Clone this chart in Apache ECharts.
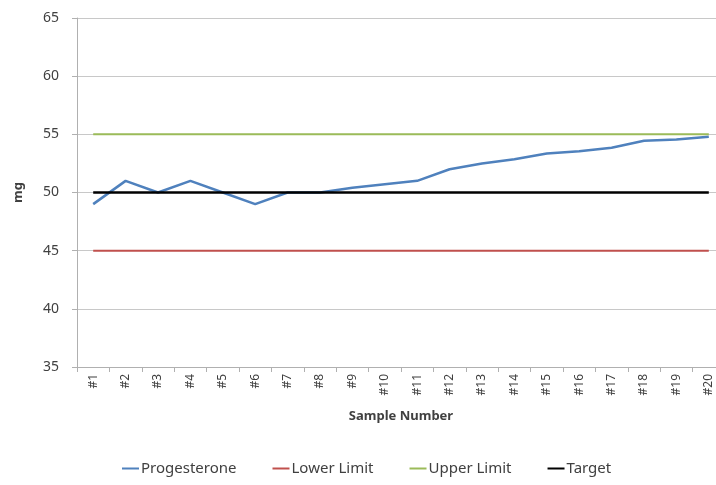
<!DOCTYPE html>
<html>
<head>
<meta charset="utf-8">
<script src="https://cdn.jsdelivr.net/npm/echarts@6/dist/echarts.min.js"></script>
<style>
  html, body { margin: 0; padding: 0; background: #fff; overflow: hidden; width: 716px; height: 485px; }
  /* the plot area runs a little past the right edge of the page */
  #chart { width: 740px; height: 485px; }
</style>
</head>
<body>
<div id="chart"></div>
<script>
// Sample labels along the x axis
const samples = ['#1','#2','#3','#4','#5','#6','#7','#8','#9','#10',
                 '#11','#12','#13','#14','#15','#16','#17','#18','#19','#20'];
// Measured progesterone per sample (mg)
const progesterone = [49, 51, 50, 51, 50, 49, 50, 50, 50.4, 50.7,
                      51, 52, 52.5, 52.85, 53.35, 53.55, 53.85, 54.45, 54.55, 54.8];
// Control limits (mg)
const lowerLimit = 45;
const upperLimit = 55;
const target = 50;
// Y axis range
const yMin = 35, yMax = 65, yStep = 5;

const flat = v => samples.map(() => v);
const font = 'Noto Sans';

const chart = echarts.init(document.getElementById('chart'));
chart.setOption({
  animation: false,
  textStyle: { fontFamily: font },
  grid: { left: 77, top: 18, width: 648, height: 349 },
  legend: {
    top: 456,
    left: 117,
    icon: 'rect',
    itemWidth: 17,
    itemHeight: 2,
    itemGap: 36,
    textStyle: { fontFamily: font, fontSize: 15, color: '#404040', padding: [0, 0, 0, -3] },
    data: ['Progesterone', 'Lower Limit', 'Upper Limit', 'Target']
  },
  xAxis: {
    type: 'category',
    data: samples,
    boundaryGap: true,
    name: 'Sample Number',
    nameLocation: 'middle',
    nameGap: 43,
    nameTextStyle: { fontFamily: font, fontSize: 13, fontWeight: 'bold', color: '#404040' },
    axisLine: { lineStyle: { color: '#b0b0b0', width: 1 } },
    axisTick: { show: true, length: 5, alignWithLabel: false, lineStyle: { color: '#b0b0b0' } },
    axisLabel: { rotate: 90, fontSize: 12, color: '#404040', margin: 7, interval: 0 },
    splitLine: { show: false }
  },
  yAxis: {
    type: 'value',
    min: yMin,
    max: yMax,
    interval: yStep,
    name: 'mg',
    nameLocation: 'middle',
    nameGap: 52,
    nameRotate: 90,
    nameTextStyle: { fontFamily: font, fontSize: 13, fontWeight: 'bold', color: '#404040' },
    axisLine: { show: true, lineStyle: { color: '#b0b0b0', width: 1 } },
    axisTick: { show: true, length: 5, lineStyle: { color: '#b0b0b0' } },
    axisLabel: { fontSize: 14, color: '#404040', margin: 18 },
    splitLine: { show: true, lineStyle: { color: '#c8c8c8', width: 1 } }
  },
  series: [
    { name: 'Progesterone', type: 'line', data: progesterone, showSymbol: false,
      lineStyle: { color: '#4F81BD', width: 2.5 }, itemStyle: { color: '#4F81BD' } },
    { name: 'Lower Limit', type: 'line', data: flat(lowerLimit), showSymbol: false,
      lineStyle: { color: '#C0504D', width: 2 }, itemStyle: { color: '#C0504D' } },
    { name: 'Upper Limit', type: 'line', data: flat(upperLimit), showSymbol: false,
      lineStyle: { color: '#9BBB59', width: 2 }, itemStyle: { color: '#9BBB59' } },
    { name: 'Target', type: 'line', data: flat(target), showSymbol: false,
      lineStyle: { color: '#000000', width: 2.5 }, itemStyle: { color: '#000000' } }
  ]
});
</script>
</body>
</html>
